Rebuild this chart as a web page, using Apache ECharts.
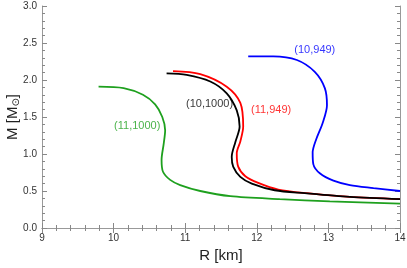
<!DOCTYPE html>
<html><head><meta charset="utf-8">
<script src="https://cdn.jsdelivr.net/npm/echarts@6/dist/echarts.min.js"></script>
<style>html,body{margin:0;padding:0;background:#fff}#c{width:407px;height:268px}</style>
</head><body><div id="c"></div>
<script>
// [R (km), M (Msun)] pairs
var green_11_1000 = [[9.79,1.91],[10.14,1.89],[10.41,1.80],[10.58,1.67],[10.68,1.50],[10.72,1.32],[10.70,1.14],[10.67,0.92],[10.69,0.76],[10.79,0.65],[10.93,0.58],[11.21,0.50],[11.63,0.43],[12.32,0.39],[13.02,0.36],[14.0,0.33]];
var black_10_1000 = [[10.74,2.09],[11.02,2.07],[11.35,1.98],[11.58,1.82],[11.72,1.59],[11.76,1.37],[11.70,1.16],[11.65,0.96],[11.67,0.83],[11.77,0.69],[11.93,0.60],[12.25,0.51],[12.67,0.47],[13.3,0.42],[14.0,0.39]];
var red_11_949 = [[10.83,2.12],[11.21,2.08],[11.58,1.91],[11.77,1.69],[11.81,1.37],[11.77,1.17],[11.72,1.01],[11.74,0.83],[11.84,0.70],[12.02,0.61],[12.30,0.52],[12.70,0.47],[13.30,0.42],[14.0,0.39]];
var blue_10_949 = [[11.88,2.32],[12.23,2.32],[12.56,2.27],[12.81,2.11],[12.95,1.89],[12.98,1.66],[12.92,1.42],[12.83,1.20],[12.78,1.02],[12.79,0.86],[12.88,0.74],[13.07,0.64],[13.30,0.58],[13.63,0.54],[14.0,0.50]];
var labels = [[10.33,1.38,'(11,1000)','#1ea01e'],[11.34,1.68,'(10,1000)','#000000'],[12.2,1.59,'(11,949)','#ff0000'],[12.81,2.4,'(10,949)','#0000ff']];
var xTicks = [9,10,11,12,13,14];
var yTicks = [0,0.5,1,1.5,2,2.5,3];

var chart = echarts.init(document.getElementById('c'));
var axisCommon = {
  axisLine:{show:true,lineStyle:{color:'#999',width:1}},
  axisTick:{show:true,inside:true,length:5,lineStyle:{color:'#888'}},
  minorTick:{show:true,splitNumber:5,length:3,lineStyle:{color:'#888'}},
  splitLine:{show:false}
};
function mk(o){return Object.assign({},JSON.parse(JSON.stringify(axisCommon)),o);}
function lineSeries(data,color){
  return {type:'line',data:data,smooth:0.3,symbol:'none',xAxisIndex:0,yAxisIndex:0,
    lineStyle:{color:color,width:1.8},z:3};
}
chart.setOption({
  animation:false,
  grid:{left:42,right:7,top:6,bottom:40,containLabel:false,outerBoundsMode:'none'},
  xAxis:[
    mk({type:'value',min:xTicks[0],max:xTicks[xTicks.length-1],interval:1,position:'bottom',
      name:'R [km]',nameLocation:'middle',nameGap:19,
      nameTextStyle:{fontFamily:'Liberation Sans',fontSize:15,color:'#222'},
      axisLabel:{fontFamily:'Liberation Sans',fontSize:10,color:'#333',margin:5}}),
    mk({type:'value',min:xTicks[0],max:xTicks[xTicks.length-1],interval:1,position:'top',axisLabel:{show:false}})
  ],
  yAxis:[
    mk({type:'value',min:yTicks[0],max:yTicks[yTicks.length-1],interval:0.5,position:'left',
      name:'M [M{s|⊙}]',nameLocation:'middle',nameGap:21,nameRotate:90,nameMoveOverlap:false,
      nameTextStyle:{fontFamily:'Liberation Sans',fontSize:15,color:'#222',rich:{s:{fontSize:10,fontFamily:'DejaVu Sans',color:'#222',padding:[7,0,0,0]}}},
      axisLabel:{fontFamily:'Liberation Sans',fontSize:10,color:'#333',margin:5,formatter:function(v){return v.toFixed(1);}}}),
    mk({type:'value',min:yTicks[0],max:yTicks[yTicks.length-1],interval:0.5,position:'right',axisLabel:{show:false}})
  ],
  series:[
    lineSeries(green_11_1000,'#1ea01e'),
    lineSeries(red_11_949,'#ff0000'),
    lineSeries(black_10_1000,'#000000'),
    lineSeries(blue_10_949,'#0000ff'),
    {type:'scatter',symbolSize:0,z:5,
      data:labels.map(function(l){return {value:[l[0],l[1]],label:{show:true,position:'inside',formatter:l[2],color:l[3],fontSize:11,fontFamily:'Liberation Sans'}};})}
  ]
});
</script></body></html>
